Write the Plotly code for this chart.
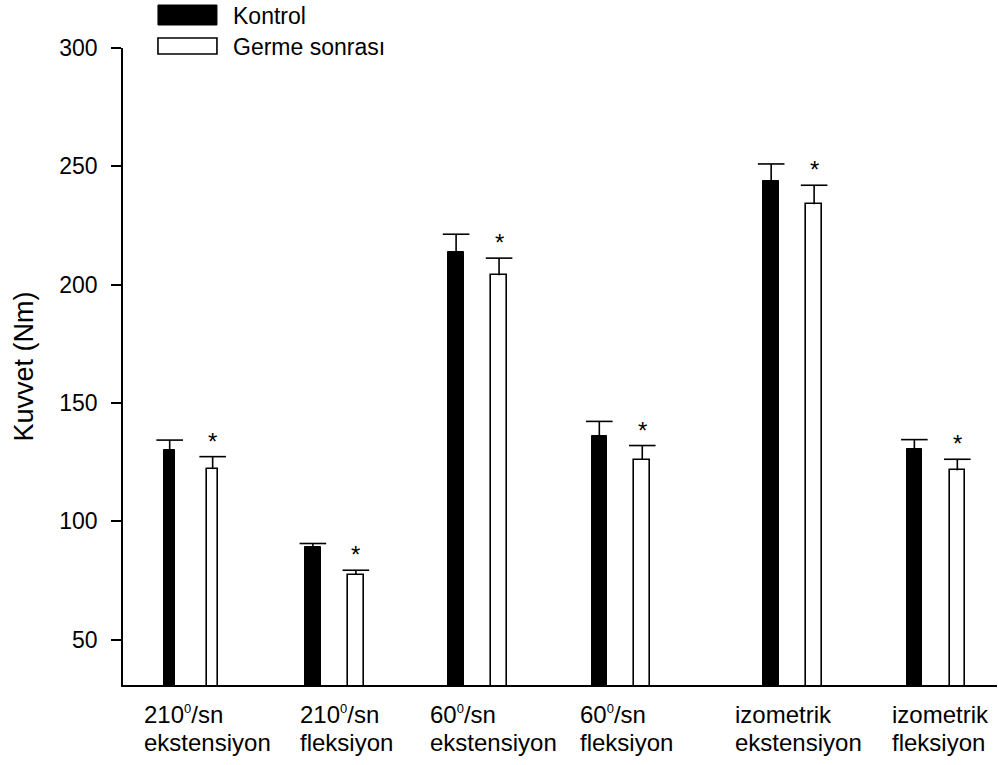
import plotly.graph_objects as go

# ---- data ----
SUP0 = "<sup><span style='font-size:13px'>0</span></sup>"
categories_line1 = ["210" + SUP0 + "/sn", "210" + SUP0 + "/sn", "60" + SUP0 + "/sn",
                    "60" + SUP0 + "/sn", "izometrik", "izometrik"]
categories_line2 = ["ekstensiyon", "fleksiyon", "ekstensiyon", "fleksiyon", "ekstensiyon", "fleksiyon"]
kontrol = [130, 89, 214, 136, 244, 130.5]
kontrol_err = [4.3, 1.6, 7.3, 6.2, 7, 4]
germe = [122, 77.5, 204, 126, 234, 121.5]
germe_err = [5.3, 1.8, 7.2, 6, 8, 4.7]
y_ticks = [50, 100, 150, 200, 250, 300]

# ---- layout helpers ----
group_pos = [0, 1, 2, 3, 4.2, 5.2]
offset = 0.15
widths = [0.075, 0.109, 0.109, 0.109, 0.109, 0.109]
FONT = "Liberation Sans, Arial, sans-serif"

xk = [g - offset for g in group_pos]
xg = [g + offset for g in group_pos]

fig = go.Figure()
fig.add_trace(go.Bar(
    x=xk, y=kontrol, width=widths, name="Kontrol",
    marker=dict(color="black", line=dict(color="black", width=1)),
    error_y=dict(type="data", array=kontrol_err, arrayminus=[0] * len(kontrol),
                 symmetric=False, color="black", thickness=1.6, width=0),
    showlegend=False,
))
fig.add_trace(go.Bar(
    x=xg, y=germe, width=widths, name="Germe sonrası",
    marker=dict(color="white", line=dict(color="black", width=1.6)),
    error_y=dict(type="data", array=germe_err, arrayminus=[0] * len(germe),
                 symmetric=False, color="black", thickness=1.6, width=0),
    showlegend=False,
))
# error bar caps (upper only)
fig.add_trace(go.Scatter(
    x=xk + xg,
    y=[v + e for v, e in zip(kontrol, kontrol_err)] + [v + e for v, e in zip(germe, germe_err)],
    mode="markers", hoverinfo="skip", showlegend=False,
    marker=dict(symbol="line-ew", size=19, color="black", line=dict(color="black", width=1.6)),
))

annotations = []
# significance stars
for x, v, e in zip(xg, germe, germe_err):
    annotations.append(dict(x=x, y=v + e, xref="x", yref="y", text="*",
                            showarrow=False, yanchor="bottom", xanchor="center",
                            font=dict(family=FONT, size=24, color="black")))

# x category labels (two lines, left aligned)
label_x = [0.0214, 0.2006, 0.3493, 0.5209, 0.6983, 0.8776]
for lx, t1, t2 in zip(label_x, categories_line1, categories_line2):
    annotations.append(dict(x=lx, y=-0.047, xref="paper", yref="paper", text=t1,
                            showarrow=False, xanchor="left", yanchor="middle",
                            font=dict(family=FONT, size=24, color="black")))
    annotations.append(dict(x=lx, y=-0.0895, xref="paper", yref="paper", text=t2,
                            showarrow=False, xanchor="left", yanchor="middle",
                            font=dict(family=FONT, size=24, color="black")))

# y-axis title
annotations.append(dict(x=-0.1144, y=0.5, xref="paper", yref="paper", text="Kuvvet (Nm)",
                        textangle=-90, showarrow=False, xanchor="center", yanchor="middle",
                        font=dict(family=FONT, size=27, color="black")))

# custom legend
annotations.append(dict(x=0.1236, y=1.0502, xref="paper", yref="paper", text="Kontrol",
                        showarrow=False, xanchor="left", yanchor="middle",
                        font=dict(family=FONT, size=23, color="black")))
annotations.append(dict(x=0.1236, y=1.0016, xref="paper", yref="paper", text="Germe sonrası",
                        showarrow=False, xanchor="left", yanchor="middle",
                        font=dict(family=FONT, size=23, color="black")))

shapes = [
    dict(type="rect", xref="paper", yref="paper", x0=0.0400, x1=0.1075, y0=1.0361, y1=1.0675,
         fillcolor="black", line=dict(color="black", width=1)),
    dict(type="rect", xref="paper", yref="paper", x0=0.0400, x1=0.1075, y0=0.9906, y1=1.0157,
         fillcolor="white", line=dict(color="black", width=1.6)),
]

fig.update_layout(
    width=998, height=765,
    margin=dict(l=123, r=1, t=48, b=80),
    plot_bgcolor="white", paper_bgcolor="white",
    font=dict(family=FONT, size=23, color="black"),
    annotations=annotations, shapes=shapes,
    xaxis=dict(range=[-0.476, 5.627], showticklabels=False, ticks="", showgrid=False,
               zeroline=False, showline=True, linecolor="black", linewidth=1.6),
    yaxis=dict(range=[30.8, 300], tickvals=y_ticks, ticks="outside", ticklen=10,
               tickwidth=1.6, tickcolor="black", showgrid=False, zeroline=False,
               showline=True, linecolor="black", linewidth=1.6,
               tickfont=dict(family=FONT, size=23, color="black"), ticklabelstandoff=9),
    bargap=0,
)

fig.write_html("out.html", config={"displayModeBar": False},
               post_script="document.body.style.margin='0';document.body.style.overflow='hidden';")
